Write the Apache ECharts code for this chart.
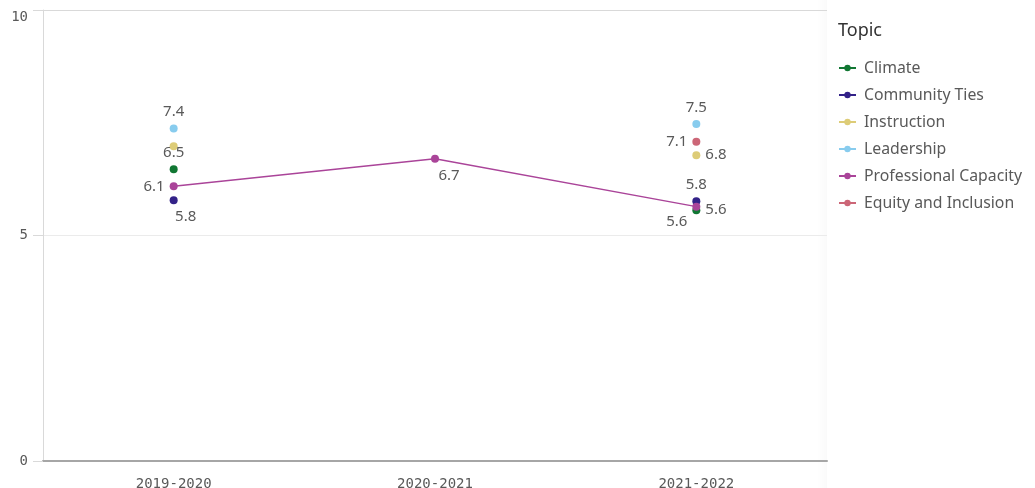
<!DOCTYPE html>
<html>
<head>
<meta charset="utf-8">
<script src="https://cdn.jsdelivr.net/npm/echarts@6/dist/echarts.min.js"></script>
<style>
  html, body { margin: 0; padding: 0; background: #fff; }
  #chart { width: 1035px; height: 488px; }
</style>
</head>
<body>
<div id="chart"></div>
<script>
const years = ['2019-2020', '2020-2021', '2021-2022']
const topics = ['Climate', 'Community Ties', 'Instruction', 'Leadership', 'Professional Capacity', 'Equity and Inclusion']
const climate = [6.47, null, 5.56]
const communityTies = [5.78, null, 5.76]
const instruction = [6.98, null, 6.78]
const leadership = [7.37, null, 7.47]
const professionalCapacity = [6.09, 6.7, 5.64]
const equityInclusion = [null, null, 7.08]
const yTicks = [0, 5, 10]

const colors = ['#117733', '#332288', '#DDCC77', '#88CCEE', '#AA4499', '#CC6677']
const values = [climate, communityTies, instruction, leadership, professionalCapacity, equityInclusion]

// label placement per topic per year (null = label hidden)
const labelPlace = [
  [{ position: 'top' }, null, { position: 'left', offset: [0, 11] }],
  [{ position: 'bottom', offset: [12, 0] }, null, { position: 'top' }],
  [null, null, { position: 'right' }],
  [{ position: 'top' }, null, { position: 'top' }],
  [{ position: 'left' }, { position: 'bottom', offset: [14, 0] }, { position: 'right', offset: [0, 3] }],
  [null, null, { position: 'left' }]
]

const labelFont = { fontFamily: 'Noto Sans', fontSize: 15, color: '#595959' }

const chart = echarts.init(document.getElementById('chart'))
chart.setOption({
  animation: false,
  backgroundColor: '#ffffff',
  color: colors,
  title: {
    text: 'Topic',
    left: 833,
    top: 17,
    textStyle: { fontFamily: 'Noto Sans', fontSize: 18, fontWeight: 'normal', color: '#333333' }
  },
  legend: {
    orient: 'vertical',
    left: 833,
    top: 55,
    itemWidth: 17,
    itemHeight: 8,
    itemGap: 11,
    data: topics,
    textStyle: { fontFamily: 'Noto Sans', fontSize: 15.8, color: '#595959', padding: [0, 0, 0, 3] }
  },
  graphic: [{
    type: 'rect',
    shape: { x: 817, y: 0, width: 10, height: 488 },
    style: {
      fill: new echarts.graphic.LinearGradient(0, 0, 1, 0, [
        { offset: 0, color: 'rgba(0,0,0,0)' },
        { offset: 1, color: 'rgba(0,0,0,0.02)' }
      ])
    },
    silent: true,
    z: -1
  }],
  grid: { left: 43, right: 208, top: 10, bottom: 27, outerBoundsMode: 'none' },
  xAxis: {
    type: 'category',
    data: years,
    boundaryGap: true,
    axisLine: { lineStyle: { color: '#a6a6a6', width: 2 } },
    axisTick: { show: false },
    axisLabel: { fontFamily: 'DejaVu Sans Mono', fontSize: 14, color: '#595959', margin: 16 }
  },
  yAxis: {
    type: 'value',
    min: 0,
    max: 10,
    interval: 2.5,
    axisLine: { show: true, lineStyle: { color: '#d9d9d9' } },
    axisTick: { show: true, length: 10, customValues: yTicks, lineStyle: { color: '#d9d9d9' } },
    axisLabel: {
      customValues: yTicks,
      fontFamily: 'DejaVu Sans Mono',
      fontSize: 14,
      color: '#595959',
      margin: 15,
      formatter: v => (v === 10 ? '{t|10}' : String(v)),
      rich: { t: { fontFamily: 'DejaVu Sans Mono', fontSize: 14, color: '#595959', padding: [14, 0, 0, 0] } }
    },
    splitLine: { lineStyle: { color: ['#d9d9d9', '#ebebeb'] } }
  },
  series: topics.map((name, i) => ({
    name,
    type: 'line',
    connectNulls: false,
    symbol: 'circle',
    symbolSize: 8,
    lineStyle: { width: 1.5 },
    label: Object.assign({ show: true, formatter: p => p.value.toFixed(1), distance: 5 }, labelFont),
    data: values[i].map((v, j) => {
      if (v === null) return null
      const lp = labelPlace[i][j]
      return lp ? { value: v, label: lp } : { value: v, label: { show: false } }
    })
  }))
})
</script>
</body>
</html>
